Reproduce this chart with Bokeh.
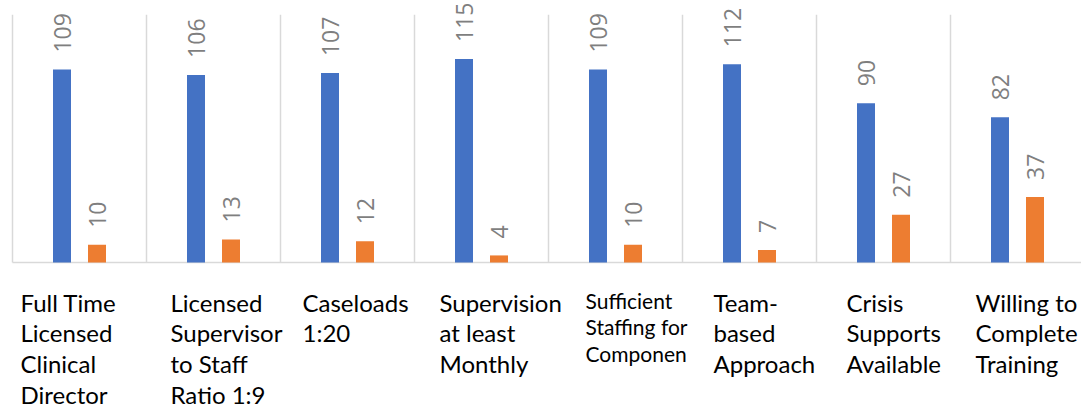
import numpy as np
from bokeh.plotting import figure
from bokeh.models import Range1d, ColumnDataSource
from bokeh.core.properties import value
from bokeh.embed import file_html
from bokeh.resources import INLINE

# ---- data ----
categories = [
    "Full Time\nLicensed\nClinical\nDirector",
    "Licensed\nSupervisor\nto Staff\nRatio 1:9",
    "Caseloads\n1:20",
    "Supervision\nat least\nMonthly",
    "Sufficient\nStaffing for\nComponen",
    "Team-\nbased\nApproach",
    "Crisis\nSupports\nAvailable",
    "Willing to\nComplete\nTraining",
]
series_blue = [109, 106, 107, 115, 109, 112, 90, 82]
series_orange = [10, 13, 12, 4, 10, 7, 27, 37]
axis_max = 140

# ---- layout / style ----
W, H = 1081, 412
px_per_cat = 134.0
px_per_unit = 1.77
left_px = 12.0         # first gridline, px from figure left
base_px = 262.0        # baseline, px from figure top
label_dx = [8, 24, 22, 25, 37, 31, 30, 25]   # category label start from left gridline (px)
label_sizes = ["24px", "24px", "24px", "24px", "21px", "24px", "24px", "24px"]

n = len(categories)
x0 = -left_px / px_per_cat
x1 = x0 + W / px_per_cat
y1 = base_px / px_per_unit
y0 = -(H - base_px) / px_per_unit

p = figure(width=W, height=H, x_range=Range1d(x0, x1), y_range=Range1d(y0, y1),
           output_backend="svg", toolbar_location=None,
           x_axis_type=None, y_axis_type=None, min_border=0,
           outline_line_color=None)
p.min_border_left = p.min_border_right = p.min_border_top = p.min_border_bottom = 0
p.xgrid.visible = False
p.ygrid.visible = False
p.background_fill_color = "white"
p.border_fill_color = "white"

idx = np.arange(n)
centers = idx + 0.5
bar_w = 18 / px_per_cat
off = 17.5 / px_per_cat

# vertical separators
p.segment(x0=np.arange(n + 1), y0=[0] * (n + 1), x1=np.arange(n + 1), y1=[axis_max] * (n + 1),
          line_color="#d9d9d9", line_width=1.5)
# baseline
p.segment(x0=[0], y0=[0], x1=[n], y1=[0], line_color="#d9d9d9", line_width=1.5)

src = ColumnDataSource(dict(
    xb=centers - off, xo=centers + off,
    blue=series_blue, orange=series_orange,
    lb=[str(v) for v in series_blue], lo=[str(v) for v in series_orange],
    xl=idx.astype(float), cat=categories, dx=label_dx, fs=label_sizes,
))

p.vbar(x="xb", top="blue", bottom=0, width=bar_w, source=src, fill_color="#4472C4", line_color=None)
p.vbar(x="xo", top="orange", bottom=0, width=bar_w, source=src, fill_color="#ED7D31", line_color=None)

for xcol, ycol, tcol in (("xb", "blue", "lb"), ("xo", "orange", "lo")):
    p.text(x=xcol, y=ycol, text=tcol, source=src, angle=np.pi / 2,
           text_align="left", text_baseline="middle", y_offset=-17,
           text_font=value("Open Sans"), text_font_size="23px", text_color="#7f7f7f")

p.text(x="xl", y=0, text="cat", source=src, x_offset="dx", y_offset=25,
       text_align="left", text_baseline="top", text_font=value("Lato"),
       text_font_size="fs", text_line_height=1.06, text_color="#000000")

open("out.html", "w").write(file_html(p, INLINE))
